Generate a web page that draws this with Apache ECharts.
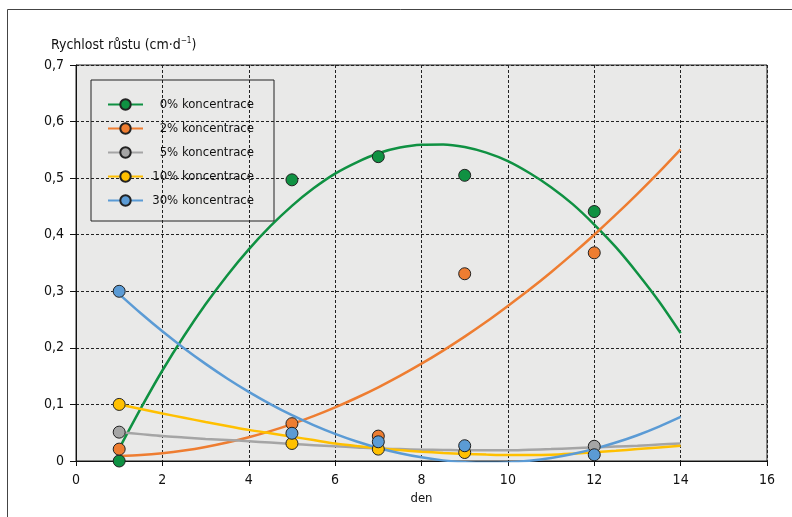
<!DOCTYPE html>
<html>
<head>
<meta charset="utf-8">
<script src="https://cdn.jsdelivr.net/npm/echarts@6/dist/echarts.min.js"></script>
<style>html,body{margin:0;padding:0;background:#fff}#c{width:792px;height:517px}</style>
</head>
<body>
<div id="c"></div>
<script>
// ---- data ----
const seriesNames = ['0% koncentrace', '2% koncentrace', '5% koncentrace', '10% koncentrace', '30% koncentrace'];
const colors = ['#0f9142', '#ee7d31', '#a5a5a5', '#ffc000', '#5b9bd5'];

// measurement days and measured values
const measDays = [1, 5, 7, 9, 12];
const meas0 = [0.000, 0.497, 0.538, 0.505, 0.441];
const meas2 = [0.021, 0.066, 0.044, 0.331, 0.368];
const meas5 = [0.051, null, null, null, 0.026];
const meas10 = [0.100, 0.031, 0.021, 0.015, null];
const meas30 = [0.300, 0.049, 0.034, 0.027, 0.011];

// trend curves, every half day
const fitDays = [1, 1.5, 2, 2.5, 3, 3.5, 4, 4.5, 5, 5.5, 6, 6.5, 7, 7.5, 8, 8.5, 9, 9.5, 10, 10.5, 11, 11.5, 12, 12.5, 13, 13.5, 14];
const fit0 = [0.022, 0.093, 0.160, 0.221, 0.277, 0.328, 0.374, 0.415, 0.451, 0.482, 0.508, 0.528, 0.544, 0.554, 0.559, 0.5595, 0.555, 0.545, 0.530, 0.509, 0.484, 0.454, 0.418, 0.378, 0.332, 0.282, 0.226];
const fit2 = [0.0087, 0.0104, 0.0137, 0.0185, 0.0248, 0.0326, 0.042, 0.0529, 0.0653, 0.0792, 0.0947, 0.1118, 0.1303, 0.1504, 0.172, 0.1952, 0.2198, 0.246, 0.274, 0.303, 0.3338, 0.3661, 0.400, 0.4354, 0.4723, 0.5107, 0.551];
const fit5 = [0.051, 0.0475, 0.044, 0.0415, 0.039, 0.037, 0.035, 0.0325, 0.030, 0.028, 0.026, 0.024, 0.022, 0.021, 0.020, 0.0195, 0.019, 0.019, 0.019, 0.020, 0.021, 0.0225, 0.024, 0.0255, 0.027, 0.029, 0.031];
const fit10 = [0.100, 0.092, 0.084, 0.0765, 0.069, 0.062, 0.055, 0.049, 0.043, 0.037, 0.031, 0.0265, 0.0225, 0.0193, 0.0165, 0.0143, 0.0125, 0.0113, 0.0105, 0.0105, 0.011, 0.013, 0.0155, 0.018, 0.021, 0.024, 0.027];
const fit30 = [0.295, 0.2611, 0.2292, 0.1994, 0.1717, 0.1459, 0.1222, 0.1006, 0.081, 0.0635, 0.048, 0.0345, 0.0231, 0.0138, 0.0065, 0.0011, -0.0021, -0.0033, -0.0025, 0.0005, 0.0054, 0.0124, 0.0214, 0.0326, 0.0456, 0.0609, 0.078];

const xTicks = { min: 0, max: 16, interval: 2 };
const yTicks = { min: 0, max: 0.7, interval: 0.1 };

// ---- chart ----
const FONT = "'DejaVu Sans Condensed','Liberation Sans Narrow','Roboto',sans-serif";
const fits = [fit0, fit2, fit5, fit10, fit30];
const meas = [meas0, meas2, meas5, meas10, meas30];

const pairs = (xs, ys) => xs.map((x, i) => [x, ys[i]]).filter(p => p[1] !== null);

const series = [];
fits.forEach((f, i) => {
  series.push({
    name: seriesNames[i],
    type: 'line',
    data: pairs(fitDays, f),
    smooth: 0.3,
    showSymbol: false,
    symbol: 'circle',
    clip: true,
    lineStyle: { color: colors[i], width: 2.5 },
    itemStyle: { color: colors[i], borderColor: '#222', borderWidth: 1 },
    z: 2,
    silent: true
  });
});
meas.forEach((m, i) => {
  series.push({
    name: seriesNames[i] + ' (měření)',
    type: 'scatter',
    data: pairs(measDays, m),
    symbol: 'circle',
    symbolSize: 12,
    itemStyle: { color: colors[i], borderColor: '#222', borderWidth: 1, opacity: 1 },
    z: 3,
    clip: false
  });
});

const chart = echarts.init(document.getElementById('c'), null, { renderer: 'canvas' });
chart.setOption({
  animation: false,
  backgroundColor: '#fff',
  textStyle: { fontFamily: FONT },
  title: {
    text: '{a|Rychlost růstu (cm·d}{s|−1}{a|)}',
    left: 46, top: 32,
    textStyle: {
      fontWeight: 'normal',
      rich: {
        a: { fontFamily: FONT, fontSize: 14, fontWeight: 'normal', color: '#111' },
        s: { fontFamily: FONT, fontSize: 8, fontWeight: 'normal', color: '#111', verticalAlign: 'top', padding: [0, 0, 8, 0] }
      }
    }
  },
  grid: {
    left: 76, right: 25, top: 65, bottom: 56,
    show: true, backgroundColor: '#e9e9e8', borderColor: '#222', borderWidth: 1
  },
  legend: {
    data: seriesNames,
    orient: 'vertical',
    left: 91, top: 80,
    padding: [18, 20, 14, 16],
    itemWidth: 35, itemHeight: 13, itemGap: 11,
    borderColor: '#222', borderWidth: 1,
    backgroundColor: 'transparent',
    selectedMode: false,
    formatter: name => '{a|' + name + '}',
    textStyle: {
      rich: { a: { width: 106, align: 'right', fontFamily: FONT, fontSize: 13, color: '#111' } }
    }
  },
  xAxis: {
    type: 'value', min: xTicks.min, max: xTicks.max, interval: xTicks.interval,
    name: 'den', nameLocation: 'middle', nameGap: 25,
    nameTextStyle: { fontFamily: FONT, fontSize: 13, color: '#111' },
    axisLine: { lineStyle: { color: '#111', width: 1 } },
    axisTick: { show: true, inside: false, length: 5, lineStyle: { color: '#111' } },
    axisLabel: { margin: 12, fontFamily: FONT, fontSize: 14, color: '#111' },
    splitLine: { show: true, lineStyle: { color: '#222', type: [3, 2], width: 1 } }
  },
  yAxis: {
    type: 'value', min: yTicks.min, max: yTicks.max, interval: yTicks.interval,
    axisLine: { show: true, lineStyle: { color: '#111', width: 1 } },
    axisTick: { show: true, inside: false, length: 6, lineStyle: { color: '#111' } },
    axisLabel: {
      margin: 12, fontFamily: FONT, fontSize: 14, color: '#111',
      formatter: v => (Math.round(v * 10) / 10).toString().replace('.', ',')
    },
    splitLine: { show: true, lineStyle: { color: '#222', type: [3, 2], width: 1 } }
  },
  graphic: [{
    type: 'rect', silent: true, z: -1,
    shape: { x: 7.5, y: 9.5, width: 900, height: 700 },
    style: { fill: 'none', stroke: '#444', lineWidth: 1 }
  }],
  series: series
});
</script>
</body>
</html>
